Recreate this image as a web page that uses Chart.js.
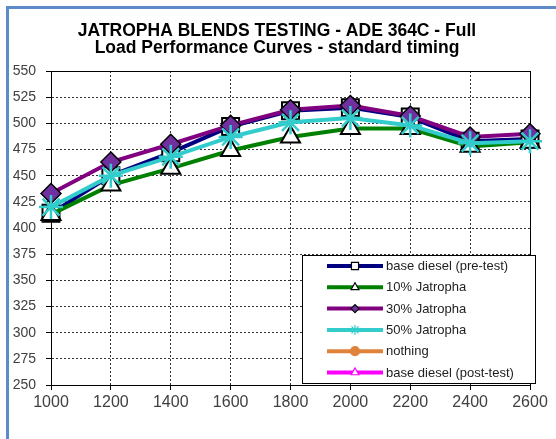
<!DOCTYPE html>
<html>
<head>
<meta charset="utf-8">
<script src="https://cdn.jsdelivr.net/npm/chart.js@4.4.1/dist/chart.umd.min.js"></script>
<style>
  html, body { margin: 0; padding: 0; background: #fff; }
  #wrap { position: relative; width: 556px; height: 439px; overflow: hidden; }
  #frame { position: absolute; left: 6px; top: 6px; width: 700px; height: 600px;
           border-left: 3px solid #5b8bc8; border-top: 3px solid #5b8bc8; pointer-events: none; }
</style>
</head>
<body>
<div id="wrap">
  <canvas id="chart" width="556" height="439"></canvas>
  <div id="frame"></div>
</div>
<script>
// engine speed (x) values
const rpm = [1000, 1200, 1400, 1600, 1800, 2000, 2200, 2400, 2600]

const basePre = [414, 450, 472, 497, 512, 515, 506, 483, 485]
const jatropha10 = [413, 441, 457, 474, 487, 495, 495, 478, 482]
const jatropha30 = [433, 463, 480, 498, 513, 517, 507, 487, 490]
const jatropha50 = [420, 450, 468, 487, 501, 505, 498, 481, 483]
const nothing = []
const basePost = []

const titleLines = ["JATROPHA BLENDS TESTING - ADE 364C - Full", "Load Performance Curves - standard timing"]

const toPoints = vals => vals.map((v, i) => ({ x: rpm[i], y: v }))

const FONT = "'Liberation Sans', Arial, sans-serif"

const series = [
  { label: "base diesel (pre-test)", data: basePre, color: "#000080", style: "rect", radius: 12, fill: "#ffffff", border: "#000000", bw: 2, order: 4, legendRadius: 5 },
  { label: "10% Jatropha", data: jatropha10, color: "#008000", style: "triangle", radius: 11, fill: "#ffffff", border: "#000000", bw: 2, order: 3, legendRadius: 4.5 },
  { label: "30% Jatropha", data: jatropha30, color: "#800080", style: "rectRot", radius: 10, fill: "#7030a0", border: "#000000", bw: 1.5, order: 2, legendRadius: 4 },
  { label: "50% Jatropha", data: jatropha50, color: "#33cccc", style: "star", radius: 12, fill: "#33cccc", border: "#33cccc", bw: 2.5, order: 1, legendRadius: 5 },
  { label: "nothing", data: nothing, color: "#e0823a", style: "circle", radius: 5, fill: "#e0823a", border: "#e0823a", bw: 1, order: 0, legendRadius: 4.5 },
  { label: "base diesel (post-test)", data: basePost, color: "#ff00ff", style: "triangle", radius: 5, fill: "#ffffff", border: "#ff00ff", bw: 1.5, order: 0, legendRadius: 4.5 }
]

// solid frame round the plot area
const plotFrame = {
  id: "plotFrame",
  beforeDatasetsDraw(chart) {
    const { ctx, chartArea: a } = chart
    ctx.save()
    ctx.strokeStyle = "#000"
    ctx.lineWidth = 1
    ctx.strokeRect(a.left + 0.5, a.top + 0.5, a.right - a.left, a.bottom - a.top)
    ctx.restore()
  }
}

// two-line bold title, centred on the whole chart object (not the padded box)
const chartTitle = {
  id: "chartTitle",
  afterDraw(chart) {
    const ctx = chart.ctx
    ctx.save()
    ctx.fillStyle = "#000"
    ctx.font = "bold 17.5px " + FONT
    ctx.textAlign = "center"
    ctx.textBaseline = "middle"
    titleLines.forEach((t, i) => ctx.fillText(t, 277, 31 + i * 17.5))
    ctx.restore()
  }
}

// Excel-style boxed legend inside the plot
const boxLegend = {
  id: "boxLegend",
  afterDraw(chart) {
    const ctx = chart.ctx
    const x0 = 302, y0 = 255, w = 233, h = 128
    ctx.save()
    ctx.fillStyle = "#fff"
    ctx.fillRect(x0, y0, w, h)
    ctx.strokeStyle = "#000"
    ctx.lineWidth = 1
    ctx.strokeRect(x0 + 0.5, y0 + 0.5, w, h)
    ctx.font = "13px " + FONT
    ctx.textBaseline = "middle"
    series.forEach((s, i) => {
      const y = 266 + i * 21.3
      ctx.strokeStyle = s.color
      ctx.lineWidth = 4
      ctx.beginPath()
      ctx.moveTo(327, y)
      ctx.lineTo(383, y)
      ctx.stroke()
      ctx.fillStyle = s.fill
      ctx.strokeStyle = s.border
      ctx.lineWidth = 1.2
      Chart.helpers.drawPoint(ctx, { pointStyle: s.style, radius: s.legendRadius, borderWidth: 1.2, rotation: 0 }, 355, y)
      ctx.fillStyle = "#222"
      ctx.fillText(s.label, 386, y + 0.5)
    })
    ctx.restore()
  }
}

new Chart(document.getElementById("chart"), {
  type: "line",
  data: {
    datasets: series.map(s => ({
      label: s.label,
      data: toPoints(s.data),
      borderColor: s.color,
      backgroundColor: s.fill,
      borderWidth: 4,
      pointStyle: s.style,
      pointRadius: s.radius,
      pointBackgroundColor: s.fill,
      pointBorderColor: s.border,
      pointBorderWidth: s.bw,
      tension: 0,
      fill: false,
      clip: false,
      order: s.order
    }))
  },
  options: {
    responsive: false,
    animation: false,
    events: [],
    layout: { padding: { left: 0, right: 26, top: 71, bottom: 0 } },
    scales: {
      x: {
        type: "linear",
        min: 1000,
        max: 2600,
        afterFit: scale => { scale.height = 54 },
        ticks: { stepSize: 200, color: "#404040", font: { family: FONT, size: 16 }, padding: 3, callback: v => String(v) },
        grid: { color: "#333", lineWidth: 1, tickLength: 5, tickColor: "#000", tickWidth: 1 },
        border: { display: true, color: "#000", width: 1, dash: [2, 2] }
      },
      y: {
        min: 250,
        max: 550,
        afterFit: scale => { scale.width = 51 },
        ticks: { stepSize: 25, color: "#404040", font: { family: FONT, size: 14 }, padding: 10, callback: v => String(v) },
        grid: { color: "#333", lineWidth: 1, tickLength: 5, tickColor: "#000", tickWidth: 1 },
        border: { display: true, color: "#000", width: 1, dash: [2, 2] }
      }
    },
    plugins: {
      legend: { display: false },
      tooltip: { enabled: false },
      title: { display: false }
    }
  },
  plugins: [plotFrame, chartTitle, boxLegend]
})
</script>
</body>
</html>
